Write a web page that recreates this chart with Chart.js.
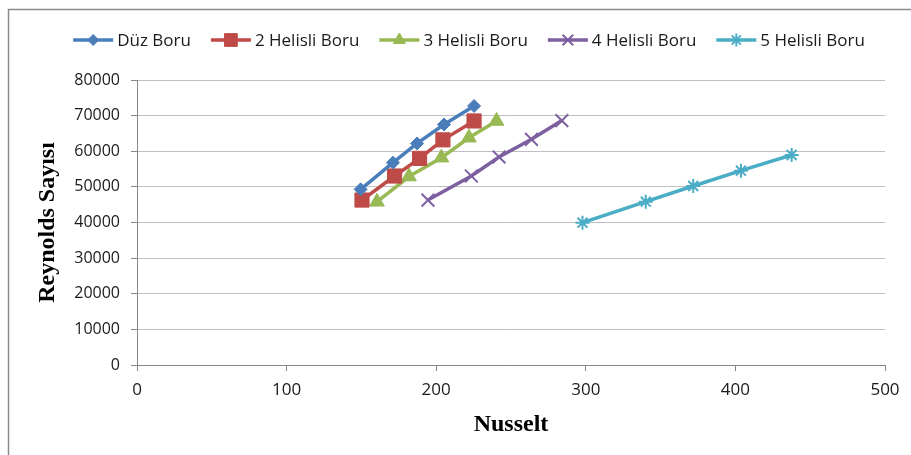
<!DOCTYPE html>
<html>
<head>
<meta charset="utf-8">
<script src="https://cdn.jsdelivr.net/npm/chart.js@4/dist/chart.umd.min.js"></script>
<style>
  html, body { margin: 0; padding: 0; background: #fff; }
  #wrap { width: 911px; height: 455px; position: relative; }
</style>
</head>
<body>
<div id="wrap"><canvas id="c" width="911" height="455"></canvas></div>
<script>
// Nusselt (x) vs Reynolds number (y) for each pipe type
const seriesNames = ['Düz Boru', '2 Helisli Boru', '3 Helisli Boru', '4 Helisli Boru', '5 Helisli Boru'];

const duzNu = [149.5, 171.1, 187.2, 205.2, 225.3];
const duzRe = [49300, 56800, 62200, 67500, 72700];

const h2Nu = [150.4, 172.2, 188.9, 204.5, 225.3];
const h2Re = [46300, 53050, 58000, 63200, 68500];

const h3Nu = [160.4, 181.8, 203.5, 221.9, 240.3];
const h3Re = [45800, 52900, 58200, 63800, 68500];

const h4Nu = [194.5, 223.5, 242.0, 263.7, 284.0];
const h4Re = [46300, 53050, 58400, 63350, 68600];

const h5Nu = [297.8, 340.1, 371.8, 403.7, 437.6];
const h5Re = [39940, 45840, 50250, 54540, 58950];

const xTicks = [0, 100, 200, 300, 400, 500];
const yTicks = [0, 10000, 20000, 30000, 40000, 50000, 60000, 70000, 80000];

const colors = ['#4A7EBB', '#BE4B48', '#98B954', '#7D60A0', '#4BACC6'];
const styles = ['rectRot', 'rect', 'triangle', 'crossRot', 'star'];
const pointRadius = [6.5, 10, 8.5, 9, 7];
const legendRadius = [5.5, 9, 7, 7.5, 6.5];

function pairs(xs, ys) { return xs.map((x, i) => ({ x: x, y: ys[i] })); }
const seriesData = [pairs(duzNu, duzRe), pairs(h2Nu, h2Re), pairs(h3Nu, h3Re), pairs(h4Nu, h4Re), pairs(h5Nu, h5Re)];

const datasets = seriesNames.map((name, i) => {
  const open = styles[i] === 'crossRot' || styles[i] === 'star';
  return {
    label: name,
    data: seriesData[i],
    borderColor: colors[i],
    backgroundColor: colors[i],
    borderWidth: 3.5,
    pointStyle: styles[i],
    pointRadius: pointRadius[i],
    pointBackgroundColor: colors[i],
    pointBorderColor: colors[i],
    pointBorderWidth: open ? 2 : 1,
    tension: 0,
    fill: false
  };
});

// Chart frame (top and left edges)
const frame = {
  id: 'frame',
  beforeDraw(chart) {
    const ctx = chart.ctx;
    ctx.save();
    ctx.fillStyle = '#fff';
    ctx.fillRect(0, 0, chart.width, chart.height);
    ctx.strokeStyle = '#8A8A8A';
    ctx.lineWidth = 1.5;
    ctx.beginPath();
    ctx.moveTo(chart.width + 2, 9.5);
    ctx.lineTo(8.5, 9.5);
    ctx.lineTo(8.5, chart.height + 2);
    ctx.stroke();
    ctx.restore();
  }
};

// Legend drawn as line + marker + label, centred above the plot
const lineLegend = {
  id: 'lineLegend',
  afterDraw(chart) {
    const ctx = chart.ctx;
    const swatch = 40, gapText = 4, gapItem = 20, centerX = 469, y = 40;
    ctx.save();
    ctx.font = '17px "Open Sans"';
    const items = chart.data.datasets.map((ds, i) => ({ ds: ds, i: i, w: ctx.measureText(ds.label).width }));
    const total = items.reduce((s, it) => s + swatch + gapText + it.w, 0) + gapItem * (items.length - 1);
    let x = centerX - total / 2;
    items.forEach(it => {
      const ds = it.ds;
      ctx.strokeStyle = ds.borderColor;
      ctx.fillStyle = ds.borderColor;
      ctx.lineWidth = 3.5;
      ctx.lineCap = 'butt';
      ctx.beginPath();
      ctx.moveTo(x, y);
      ctx.lineTo(x + swatch, y);
      ctx.stroke();
      ctx.lineWidth = ds.pointBorderWidth;
      Chart.helpers.drawPoint(ctx, { pointStyle: ds.pointStyle, radius: legendRadius[it.i], borderWidth: ds.pointBorderWidth, rotation: 0 }, x + swatch / 2, y);
      ctx.fillStyle = '#1a1a1a';
      ctx.textBaseline = 'middle';
      ctx.textAlign = 'left';
      ctx.fillText(ds.label, x + swatch + gapText, y + 1);
      x += swatch + gapText + it.w + gapItem;
    });
    ctx.restore();
  }
};

new Chart(document.getElementById('c'), {
  type: 'line',
  data: { datasets: datasets },
  plugins: [frame, lineLegend],
  options: {
    responsive: false,
    animation: false,
    events: [],
    layout: { padding: { top: 80, left: 0, right: 26, bottom: 0 } },
    plugins: {
      legend: { display: false },
      tooltip: { enabled: false },
      title: { display: false }
    },
    scales: {
      x: {
        type: 'linear',
        min: xTicks[0],
        max: xTicks[xTicks.length - 1],
        afterBuildTicks(scale) { scale.ticks = xTicks.map(v => ({ value: v })); },
        afterFit(scale) { scale.height = 90; },
        grid: { drawOnChartArea: false, drawTicks: true, tickLength: 6, tickColor: '#868686', tickWidth: 1 },
        border: { color: '#868686', width: 1 },
        ticks: { color: '#1a1a1a', font: { family: 'Open Sans', size: 17 }, padding: 9, maxRotation: 0 },
        title: {
          display: true,
          text: 'Nusselt',
          color: '#000',
          font: { family: 'Liberation Serif', size: 24, weight: 'bold' },
          padding: { top: 0, bottom: 16 }
        }
      },
      y: {
        type: 'linear',
        min: yTicks[0],
        max: yTicks[yTicks.length - 1],
        afterBuildTicks(scale) { scale.ticks = yTicks.map(v => ({ value: v })); },
        afterFit(scale) { scale.width = 137; },
        grid: { color: '#BFBFBF', lineWidth: 1, drawTicks: true, tickLength: 6, tickColor: '#868686' },
        border: { color: '#868686', width: 1 },
        ticks: { color: '#1a1a1a', font: { family: 'Open Sans', size: 16 }, padding: 11, callback: v => String(v) },
        title: {
          display: true,
          text: 'Reynolds Sayısı',
          color: '#000',
          font: { family: 'Liberation Serif', size: 24, weight: 'bold' },
          padding: { top: 33.6, bottom: 0 }
        }
      }
    }
  }
});
</script>
</body>
</html>
